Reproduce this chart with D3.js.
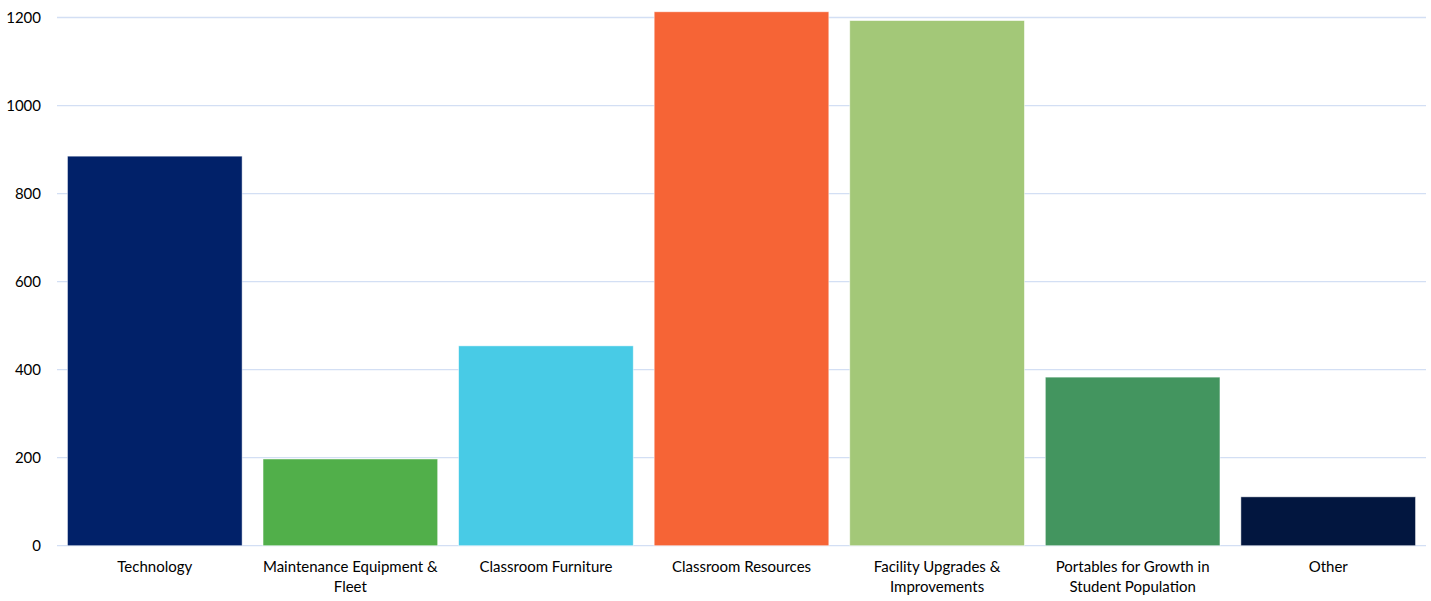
<!DOCTYPE html>
<html>
<head>
<meta charset="utf-8">
<script src="https://cdn.jsdelivr.net/npm/d3@7"></script>
<style>
  html, body { margin: 0; padding: 0; background: #fff; }
  svg { display: block; font-family: Lato, "Open Sans", sans-serif; }
</style>
</head>
<body>
<svg id="chart" width="1431" height="601"></svg>
<script>
// Spending by category
const categories = [
  "Technology",
  "Maintenance Equipment & Fleet",
  "Classroom Furniture",
  "Classroom Resources",
  "Facility Upgrades & Improvements",
  "Portables for Growth in Student Population",
  "Other"
];
const values = [885, 197, 454, 1213, 1193, 383, 111];
const barColors = ["#012169", "#51AF4A", "#48CBE6", "#F66436", "#A3C878", "#43955F", "#02163F"];
const labelLines = [
  ["Technology"],
  ["Maintenance Equipment &", "Fleet"],
  ["Classroom Furniture"],
  ["Classroom Resources"],
  ["Facility Upgrades &", "Improvements"],
  ["Portables for Growth in", "Student Population"],
  ["Other"]
];
const yTicks = [0, 200, 400, 600, 800, 1000, 1200];

const svg = d3.select("#chart");
const margin = { left: 57, right: 5, top: 17.5, bottom: 55.3 };
const width = 1431, height = 601;

const x = d3.scaleBand()
  .domain(categories)
  .range([margin.left, width - margin.right])
  .paddingInner(0.107)
  .paddingOuter(0.0535);

const y = d3.scaleLinear()
  .domain([0, 1200])
  .range([height - margin.bottom, margin.top]);

// Horizontal gridlines
svg.append("g")
  .selectAll("line")
  .data(yTicks)
  .join("line")
  .attr("x1", margin.left)
  .attr("x2", width - margin.right)
  .attr("y1", d => y(d))
  .attr("y2", d => y(d))
  .attr("stroke", "#D3DFF4")
  .attr("stroke-width", 1.3);

// Y axis labels
const yAxis = d3.axisLeft(y).tickValues(yTicks).tickFormat(d3.format("d")).tickSize(0).tickPadding(16);
const yg = svg.append("g")
  .attr("transform", `translate(${margin.left},0)`)
  .call(yAxis);
yg.select(".domain").remove();
yg.selectAll("text")
  .attr("font-size", 15)
  .attr("font-family", "Lato, 'Open Sans', sans-serif")
  .attr("fill", "#000");

// Bars
svg.append("g")
  .selectAll("rect")
  .data(categories)
  .join("rect")
  .attr("x", d => x(d))
  .attr("width", x.bandwidth())
  .attr("y", (d, i) => y(values[i]))
  .attr("height", (d, i) => y(0) - y(values[i]))
  .attr("fill", (d, i) => barColors[i])
  .attr("stroke", "#ffffff")
  .attr("stroke-opacity", 0.6)
  .attr("stroke-width", 0.8);

// Category labels
const xl = svg.append("g")
  .selectAll("text")
  .data(categories)
  .join("text")
  .attr("x", d => x(d) + x.bandwidth() / 2)
  .attr("y", 571.5)
  .attr("text-anchor", "middle")
  .attr("font-size", 15)
  .attr("fill", "#000");
xl.selectAll("tspan")
  .data((d, i) => labelLines[i])
  .join("tspan")
  .attr("x", function () { return d3.select(this.parentNode).attr("x"); })
  .attr("dy", (d, j) => j === 0 ? 0 : 20)
  .text(d => d);
</script>
</body>
</html>
